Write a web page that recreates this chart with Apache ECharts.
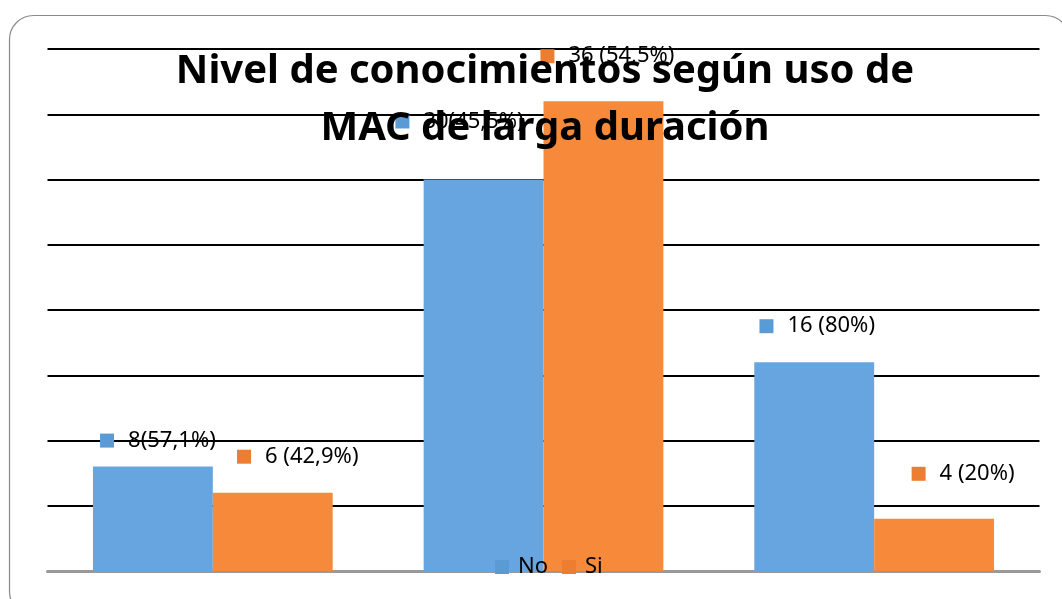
<!DOCTYPE html>
<html>
<head>
<meta charset="utf-8">
<script src="https://cdn.jsdelivr.net/npm/echarts@6/dist/echarts.min.js"></script>
<style>
    html, body { margin: 0; padding: 0; background: #fff; }
    #chart { width: 1062px; height: 599px; }
</style>
</head>
<body>
<div id="chart"></div>
<script>
// datos
const categorias = ['Grupo 1', 'Grupo 2', 'Grupo 3'];
const serieNo = [8, 30, 16];
const serieSi = [6, 36, 4];
const etiquetasNo = ['8(57,1%)', '30(45,5%)', '16 (80%)'];
const etiquetasSi = ['6 (42,9%)', '36 (54,5%)', '4 (20%)'];

const chart = echarts.init(document.getElementById('chart'));

// desplazamiento de las etiquetas (como en el original)
const offNo = [[5, -15], [-24, -47], [3, -25]];
const offSi = [[25, -25], [4, -34], [29, -34]];

function richLabel(color) {
    return {
        m: { width: 14, height: 14, backgroundColor: color },
        t: { fontSize: 22, lineHeight: 22, color: '#000', padding: [0, 0, 0, 14], fontFamily: 'Noto Sans' }
    };
}

function buildData(vals, labels, offs, color) {
    return vals.map((v, i) => ({
        value: v,
        label: {
            show: true,
            position: 'top',
            distance: 0,
            offset: offs[i],
            formatter: '{m|}{t|' + labels[i] + '}',
            rich: richLabel(color)
        }
    }));
}

const option = {
    animation: false,
    backgroundColor: '#fff',
    title: {
        text: 'Nivel de conocimientos según uso de\nMAC de larga duración',
        left: 540,
        top: 38,
        textAlign: 'center',
        textStyle: {
            fontFamily: 'Noto Sans',
            fontWeight: 'bold',
            fontSize: 40,
            lineHeight: 57,
            color: '#000'
        }
    },
    legend: {
        left: 495,
        top: 556,
        padding: 0,
        icon: 'rect',
        itemWidth: 14,
        itemHeight: 14,
        itemGap: 14,
        textStyle: { fontSize: 22, lineHeight: 22, color: '#000', fontFamily: 'Noto Sans', padding: [0, 0, 0, 4] },
        data: [
            { name: 'No', itemStyle: { color: '#5b9bd5' } },
            { name: 'Si', itemStyle: { color: '#ed7d31' } }
        ]
    },
    grid: { left: 47.5, right: 22.5, top: 49, bottom: 28 },
    xAxis: {
        type: 'category',
        data: categorias,
        axisLabel: { show: false },
        axisTick: { show: false },
        axisLine: { lineStyle: { color: '#999', width: 3 } }
    },
    yAxis: {
        type: 'value',
        min: 0,
        max: 40,
        interval: 5,
        axisLabel: { show: false },
        axisLine: { show: false },
        axisTick: { show: false },
        splitLine: { lineStyle: { color: '#000', width: 2 } }
    },
    graphic: [{
        type: 'rect',
        shape: { x: 9.5, y: 15.5, width: 1060, height: 600, r: 24 },
        style: { fill: 'none', stroke: '#8a8a8a', lineWidth: 1.2 },
        z: 10
    }],
    series: [
        {
            name: 'No',
            type: 'bar',
            barGap: 0,
            barCategoryGap: '27.5%',
            itemStyle: { color: '#66a5e0' },
            data: buildData(serieNo, etiquetasNo, offNo, '#5b9bd5')
        },
        {
            name: 'Si',
            type: 'bar',
            itemStyle: { color: '#f68a3a' },
            data: buildData(serieSi, etiquetasSi, offSi, '#ed7d31')
        }
    ]
};

chart.setOption(option);
</script>
</body>
</html>
